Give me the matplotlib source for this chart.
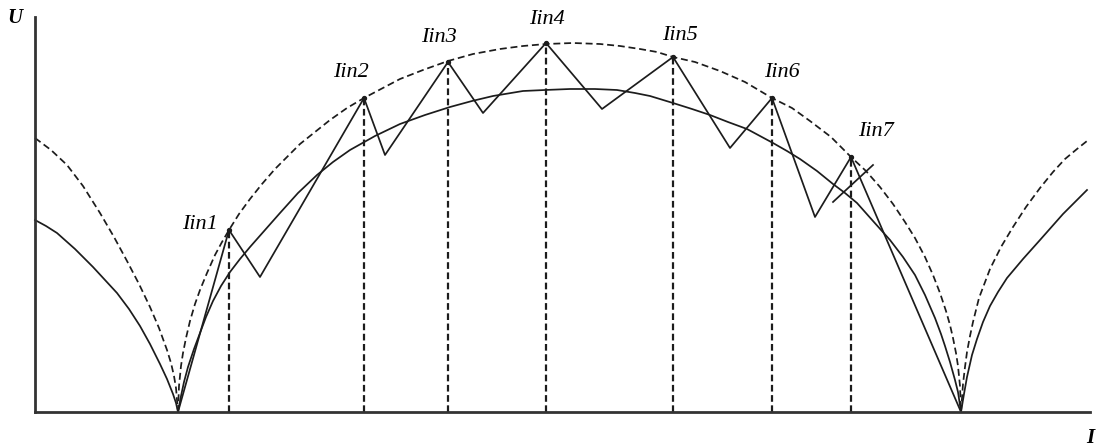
import numpy as np
import matplotlib.pyplot as plt

# Envelope of the rectified voltage (dashed) - left arch, main arch, right arch
env_left_x = [0, 16, 32, 48, 65, 79, 92, 104, 115, 124, 132, 136, 139, 141, 143]
env_left_y = [274, 262, 247, 226, 199, 175, 151, 128, 105, 84, 62, 49, 36, 24, 0]
env_main_x = [143, 144, 146, 148, 151, 155, 160, 165, 172, 180, 187, 194, 204, 215,
              227, 240, 252, 265, 280, 295, 312, 329, 346, 365, 388, 413, 438, 465,
              488, 511, 538, 565, 585, 605, 622, 638, 660, 685, 710, 737, 757, 775,
              796, 816, 831, 845, 858, 870, 880, 890, 898, 905, 911, 915, 918, 921,
              923, 925, 926]
env_main_y = [0, 26, 46, 59, 74, 91, 108, 122, 139, 157, 170, 182, 198, 213,
              228, 243, 255, 268, 280, 292, 304, 314, 323, 333, 342, 351, 358, 363,
              366, 368, 369, 368, 366, 363, 360, 355, 350, 341, 330, 314, 304, 291,
              275, 255, 241, 225, 208, 190, 174, 155, 137, 119, 101, 87, 74, 59,
              46, 26, 0]
env_right_x = [926, 928, 930, 932, 935, 938, 944, 955, 966, 978, 991, 1005, 1018,
               1030, 1042, 1052]
env_right_y = [0, 28, 45, 60, 76, 90, 114, 143, 165, 185, 205, 224, 240,
               253, 263, 271]

# Average voltage (solid)
avg_left_x = [0, 11, 22, 40, 58, 70, 82, 94, 105, 115, 125, 132, 138, 141, 143]
avg_left_y = [192, 186, 179, 163, 145, 132, 119, 103, 86, 68, 48, 33, 18, 9, 0]
avg_main_x = [143, 146, 149, 153, 159, 165, 171, 178, 186, 195, 205, 215, 230, 245,
              263, 282, 298, 315, 340, 365, 390, 415, 437, 458, 488, 510, 535, 560,
              582, 600, 615, 638, 657, 675, 693, 712, 725, 738, 752, 765, 782, 798,
              810, 822, 838, 855, 868, 880, 890, 900, 906, 910, 915, 920, 923, 926]
avg_main_y = [0, 16, 30, 45, 63, 79, 95, 111, 126, 140, 153, 165, 182, 199,
              219, 237, 250, 262, 276, 288, 297, 305, 311, 316, 321, 322, 323, 323,
              322, 319, 316, 309, 303, 297, 290, 283, 276, 269, 261, 253, 241, 228,
              219, 209, 191, 172, 155, 137, 117, 94, 78, 66, 50, 32, 20, 0]
avg_right_x = [926, 929, 932, 937, 942, 948, 955, 963, 972, 988, 1005, 1028, 1052]
avg_right_y = [0, 18, 35, 57, 73, 90, 106, 120, 134, 153, 172, 198, 222]

# Sampling points Iin1..Iin7 and the troughs between them
peak_names = ["Iin1", "Iin2", "Iin3", "Iin4", "Iin5", "Iin6", "Iin7"]
peak_x = [194, 329, 413, 511, 638, 737, 816]
peak_y = [182, 314, 350, 369, 355, 314, 255]
trough_x = [225, 350, 448, 567, 695, 780]
trough_y = [135, 257, 299, 303, 264, 195]
zero_x = [143, 926]

# short tangent drawn at Iin7
tangent_x = [798, 838]
tangent_y = [210, 247]

# label offsets (points) relative to each peak
label_dx = [-21, -9.5, -6.5, 0.7, 5, 7.2, 18]
label_dy = [4, 18.5, 17.3, 16.6, 15.8, 18.7, 18]

ink = "#1c1c1c"
serif = ["Liberation Serif", "DejaVu Serif"]

fig = plt.figure(figsize=(10.97, 4.48), dpi=100)
ax = fig.add_axes([35 / 1097, 36 / 448, 1055 / 1097, 395 / 448])
ax.set_xlim(0, 1055)
ax.set_ylim(0, 395)

dash = (0, (4, 2.2))
for xs, ys in [(env_left_x, env_left_y), (env_main_x, env_main_y), (env_right_x, env_right_y)]:
    ax.plot(xs, ys, color=ink, lw=1.25, linestyle=dash, clip_on=False)
for xs, ys in [(avg_left_x, avg_left_y), (avg_main_x, avg_main_y), (avg_right_x, avg_right_y)]:
    ax.plot(xs, ys, color=ink, lw=1.25, clip_on=False)

# zigzag: zero -> peak -> trough -> ... -> peak -> zero
zz_x = [zero_x[0]]
zz_y = [0]
for i in range(len(peak_x)):
    zz_x.append(peak_x[i])
    zz_y.append(peak_y[i])
    if i < len(trough_x):
        zz_x.append(trough_x[i])
        zz_y.append(trough_y[i])
zz_x.append(zero_x[1])
zz_y.append(0)
ax.plot(zz_x, zz_y, color=ink, lw=1.25)
ax.plot(tangent_x, tangent_y, color=ink, lw=1.25)

# dashed drops from each sampling point
for x, y in zip(peak_x, peak_y):
    ax.plot([x, x], [0, y], color=ink, lw=1.6, linestyle=(0, (3, 1.6)))
ax.scatter(peak_x, peak_y, s=8, color=ink, zorder=3)

for name, x, y, dx, dy in zip(peak_names, peak_x, peak_y, label_dx, label_dy):
    ax.annotate(name, (x, y), xytext=(dx, dy), textcoords="offset points",
                ha="center", va="center", fontsize=16, style="italic", family=serif)

for side in ["top", "right"]:
    ax.spines[side].set_visible(False)
for side in ["left", "bottom"]:
    ax.spines[side].set_linewidth(2)
    ax.spines[side].set_color("#333333")
ax.set_xticks([])
ax.set_yticks([])
ax.patch.set_alpha(0)

fig.text(15 / 1097, 1 - 18 / 448, "U", ha="center", va="center", fontsize=15,
         style="italic", weight="bold", family=serif)
fig.text(1090 / 1097, 1 - 438 / 448, "I", ha="center", va="center", fontsize=15,
         style="italic", weight="bold", family=serif)

fig.savefig("out.png", dpi=100)
